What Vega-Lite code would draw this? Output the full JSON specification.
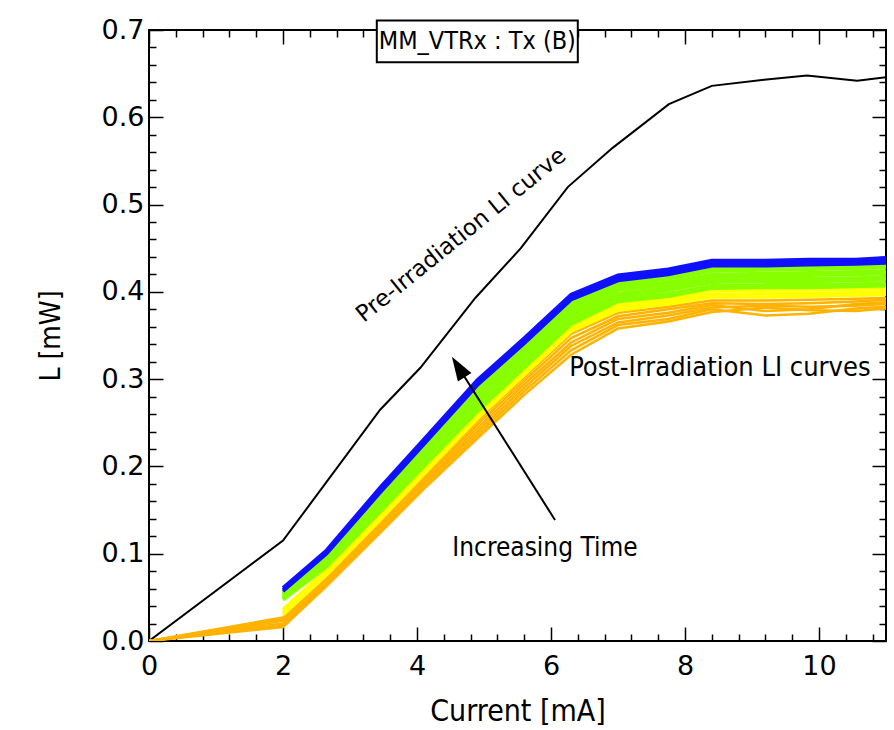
{
  "$schema": "https://vega.github.io/schema/vega-lite/v6.json",
  "width": 737,
  "height": 611,
  "autosize": "none",
  "padding": {"left": 149, "top": 30, "right": 8, "bottom": 89},
  "background": "white",
  "config": {
    "view": {"stroke": "black", "strokeWidth": 2},
    "axis": {"domain": false, "grid": false, "tickColor": "black", "tickWidth": 1.5, "labelColor": "black", "titleColor": "black", "titleFontWeight": "normal"}
  },
  "datasets": {
    "post": [
      {"g":"orange","k":"o1","x":0,"y":0},{"g":"orange","k":"o1","x":2,"y":0.016},{"g":"orange","k":"o1","x":2.65,"y":0.063},{"g":"orange","k":"o1","x":3.45,"y":0.124},{"g":"orange","k":"o1","x":4.1,"y":0.174},{"g":"orange","k":"o1","x":4.9,"y":0.232},{"g":"orange","k":"o1","x":5.6,"y":0.282},{"g":"orange","k":"o1","x":6.3,"y":0.328},{"g":"orange","k":"o1","x":7.0,"y":0.358},{"g":"orange","k":"o1","x":7.75,"y":0.366},{"g":"orange","k":"o1","x":8.4,"y":0.377},{"g":"orange","k":"o1","x":9.2,"y":0.382},{"g":"orange","k":"o1","x":9.85,"y":0.379},{"g":"orange","k":"o1","x":10.55,"y":0.378},{"g":"orange","k":"o1","x":11.0,"y":0.381},
      {"g":"orange","k":"o2","x":0,"y":0},{"g":"orange","k":"o2","x":2,"y":0.018},{"g":"orange","k":"o2","x":2.65,"y":0.065},{"g":"orange","k":"o2","x":3.45,"y":0.126},{"g":"orange","k":"o2","x":4.1,"y":0.177},{"g":"orange","k":"o2","x":4.9,"y":0.236},{"g":"orange","k":"o2","x":5.6,"y":0.286},{"g":"orange","k":"o2","x":6.3,"y":0.333},{"g":"orange","k":"o2","x":7.0,"y":0.362},{"g":"orange","k":"o2","x":7.75,"y":0.369},{"g":"orange","k":"o2","x":8.4,"y":0.380},{"g":"orange","k":"o2","x":9.2,"y":0.373},{"g":"orange","k":"o2","x":9.85,"y":0.375},{"g":"orange","k":"o2","x":10.55,"y":0.381},{"g":"orange","k":"o2","x":11.0,"y":0.383},
      {"g":"orange","k":"o3","x":0,"y":0},{"g":"orange","k":"o3","x":2,"y":0.020},{"g":"orange","k":"o3","x":2.65,"y":0.067},{"g":"orange","k":"o3","x":3.45,"y":0.129},{"g":"orange","k":"o3","x":4.1,"y":0.180},{"g":"orange","k":"o3","x":4.9,"y":0.240},{"g":"orange","k":"o3","x":5.6,"y":0.290},{"g":"orange","k":"o3","x":6.3,"y":0.338},{"g":"orange","k":"o3","x":7.0,"y":0.365},{"g":"orange","k":"o3","x":7.75,"y":0.373},{"g":"orange","k":"o3","x":8.4,"y":0.382},{"g":"orange","k":"o3","x":9.2,"y":0.384},{"g":"orange","k":"o3","x":9.85,"y":0.383},{"g":"orange","k":"o3","x":10.55,"y":0.384},{"g":"orange","k":"o3","x":11.0,"y":0.386},
      {"g":"orange","k":"o4","x":0,"y":0},{"g":"orange","k":"o4","x":2,"y":0.023},{"g":"orange","k":"o4","x":2.65,"y":0.069},{"g":"orange","k":"o4","x":3.45,"y":0.131},{"g":"orange","k":"o4","x":4.1,"y":0.182},{"g":"orange","k":"o4","x":4.9,"y":0.244},{"g":"orange","k":"o4","x":5.6,"y":0.294},{"g":"orange","k":"o4","x":6.3,"y":0.342},{"g":"orange","k":"o4","x":7.0,"y":0.369},{"g":"orange","k":"o4","x":7.75,"y":0.376},{"g":"orange","k":"o4","x":8.4,"y":0.385},{"g":"orange","k":"o4","x":9.2,"y":0.378},{"g":"orange","k":"o4","x":9.85,"y":0.380},{"g":"orange","k":"o4","x":10.55,"y":0.386},{"g":"orange","k":"o4","x":11.0,"y":0.388},
      {"g":"orange","k":"o5","x":0,"y":0},{"g":"orange","k":"o5","x":2,"y":0.025},{"g":"orange","k":"o5","x":2.65,"y":0.071},{"g":"orange","k":"o5","x":3.45,"y":0.134},{"g":"orange","k":"o5","x":4.1,"y":0.185},{"g":"orange","k":"o5","x":4.9,"y":0.248},{"g":"orange","k":"o5","x":5.6,"y":0.298},{"g":"orange","k":"o5","x":6.3,"y":0.347},{"g":"orange","k":"o5","x":7.0,"y":0.372},{"g":"orange","k":"o5","x":7.75,"y":0.380},{"g":"orange","k":"o5","x":8.4,"y":0.387},{"g":"orange","k":"o5","x":9.2,"y":0.386},{"g":"orange","k":"o5","x":9.85,"y":0.387},{"g":"orange","k":"o5","x":10.55,"y":0.389},{"g":"orange","k":"o5","x":11.0,"y":0.391},
      {"g":"orange","k":"o6","x":0,"y":0},{"g":"orange","k":"o6","x":2,"y":0.027},{"g":"orange","k":"o6","x":2.65,"y":0.073},{"g":"orange","k":"o6","x":3.45,"y":0.136},{"g":"orange","k":"o6","x":4.1,"y":0.188},{"g":"orange","k":"o6","x":4.9,"y":0.252},{"g":"orange","k":"o6","x":5.6,"y":0.302},{"g":"orange","k":"o6","x":6.3,"y":0.352},{"g":"orange","k":"o6","x":7.0,"y":0.376},{"g":"orange","k":"o6","x":7.75,"y":0.383},{"g":"orange","k":"o6","x":8.4,"y":0.390},{"g":"orange","k":"o6","x":9.2,"y":0.390},{"g":"orange","k":"o6","x":9.85,"y":0.391},{"g":"orange","k":"o6","x":10.55,"y":0.392},{"g":"orange","k":"o6","x":11.0,"y":0.393},
      {"g":"yellow","k":"y1","x":2,"y":0.030},{"g":"yellow","k":"y1","x":2.65,"y":0.076},{"g":"yellow","k":"y1","x":3.45,"y":0.139},{"g":"yellow","k":"y1","x":4.1,"y":0.191},{"g":"yellow","k":"y1","x":4.9,"y":0.255},{"g":"yellow","k":"y1","x":5.6,"y":0.305},{"g":"yellow","k":"y1","x":6.3,"y":0.355},{"g":"yellow","k":"y1","x":7.0,"y":0.379},{"g":"yellow","k":"y1","x":7.75,"y":0.386},{"g":"yellow","k":"y1","x":8.4,"y":0.394},{"g":"yellow","k":"y1","x":9.2,"y":0.394},{"g":"yellow","k":"y1","x":9.85,"y":0.395},{"g":"yellow","k":"y1","x":10.55,"y":0.396},{"g":"yellow","k":"y1","x":11.0,"y":0.397},
      {"g":"yellow","k":"y2","x":2,"y":0.033},{"g":"yellow","k":"y2","x":2.65,"y":0.079},{"g":"yellow","k":"y2","x":3.45,"y":0.142},{"g":"yellow","k":"y2","x":4.1,"y":0.194},{"g":"yellow","k":"y2","x":4.9,"y":0.257},{"g":"yellow","k":"y2","x":5.6,"y":0.307},{"g":"yellow","k":"y2","x":6.3,"y":0.357},{"g":"yellow","k":"y2","x":7.0,"y":0.383},{"g":"yellow","k":"y2","x":7.75,"y":0.389},{"g":"yellow","k":"y2","x":8.4,"y":0.397},{"g":"yellow","k":"y2","x":9.2,"y":0.398},{"g":"yellow","k":"y2","x":9.85,"y":0.398},{"g":"yellow","k":"y2","x":10.55,"y":0.399},{"g":"yellow","k":"y2","x":11.0,"y":0.400},
      {"g":"yellow","k":"y3","x":2,"y":0.036},{"g":"yellow","k":"y3","x":2.65,"y":0.082},{"g":"yellow","k":"y3","x":3.45,"y":0.145},{"g":"yellow","k":"y3","x":4.1,"y":0.197},{"g":"yellow","k":"y3","x":4.9,"y":0.260},{"g":"yellow","k":"y3","x":5.6,"y":0.310},{"g":"yellow","k":"y3","x":6.3,"y":0.360},{"g":"yellow","k":"y3","x":7.0,"y":0.386},{"g":"yellow","k":"y3","x":7.75,"y":0.392},{"g":"yellow","k":"y3","x":8.4,"y":0.401},{"g":"yellow","k":"y3","x":9.2,"y":0.402},{"g":"yellow","k":"y3","x":9.85,"y":0.402},{"g":"yellow","k":"y3","x":10.55,"y":0.403},{"g":"yellow","k":"y3","x":11.0,"y":0.404},
      {"g":"green","k":"g1","x":2,"y":0.047},{"g":"green","k":"g1","x":2.65,"y":0.085},{"g":"green","k":"g1","x":3.45,"y":0.148},{"g":"green","k":"g1","x":4.1,"y":0.200},{"g":"green","k":"g1","x":4.9,"y":0.263},{"g":"green","k":"g1","x":5.6,"y":0.313},{"g":"green","k":"g1","x":6.3,"y":0.363},{"g":"green","k":"g1","x":7.0,"y":0.389},{"g":"green","k":"g1","x":7.75,"y":0.395},{"g":"green","k":"g1","x":8.4,"y":0.404},{"g":"green","k":"g1","x":9.2,"y":0.405},{"g":"green","k":"g1","x":9.85,"y":0.405},{"g":"green","k":"g1","x":10.55,"y":0.406},{"g":"green","k":"g1","x":11.0,"y":0.407},
      {"g":"green","k":"g2","x":2,"y":0.048},{"g":"green","k":"g2","x":2.65,"y":0.087},{"g":"green","k":"g2","x":3.45,"y":0.151},{"g":"green","k":"g2","x":4.1,"y":0.203},{"g":"green","k":"g2","x":4.9,"y":0.267},{"g":"green","k":"g2","x":5.6,"y":0.317},{"g":"green","k":"g2","x":6.3,"y":0.367},{"g":"green","k":"g2","x":7.0,"y":0.392},{"g":"green","k":"g2","x":7.75,"y":0.398},{"g":"green","k":"g2","x":8.4,"y":0.407},{"g":"green","k":"g2","x":9.2,"y":0.408},{"g":"green","k":"g2","x":9.85,"y":0.408},{"g":"green","k":"g2","x":10.55,"y":0.409},{"g":"green","k":"g2","x":11.0,"y":0.410},
      {"g":"green","k":"g3","x":2,"y":0.049},{"g":"green","k":"g3","x":2.65,"y":0.088},{"g":"green","k":"g3","x":3.45,"y":0.153},{"g":"green","k":"g3","x":4.1,"y":0.206},{"g":"green","k":"g3","x":4.9,"y":0.271},{"g":"green","k":"g3","x":5.6,"y":0.320},{"g":"green","k":"g3","x":6.3,"y":0.370},{"g":"green","k":"g3","x":7.0,"y":0.395},{"g":"green","k":"g3","x":7.75,"y":0.402},{"g":"green","k":"g3","x":8.4,"y":0.411},{"g":"green","k":"g3","x":9.2,"y":0.412},{"g":"green","k":"g3","x":9.85,"y":0.412},{"g":"green","k":"g3","x":10.55,"y":0.413},{"g":"green","k":"g3","x":11.0,"y":0.414},
      {"g":"green","k":"g4","x":2,"y":0.050},{"g":"green","k":"g4","x":2.65,"y":0.090},{"g":"green","k":"g4","x":3.45,"y":0.156},{"g":"green","k":"g4","x":4.1,"y":0.209},{"g":"green","k":"g4","x":4.9,"y":0.275},{"g":"green","k":"g4","x":5.6,"y":0.324},{"g":"green","k":"g4","x":6.3,"y":0.374},{"g":"green","k":"g4","x":7.0,"y":0.398},{"g":"green","k":"g4","x":7.75,"y":0.405},{"g":"green","k":"g4","x":8.4,"y":0.414},{"g":"green","k":"g4","x":9.2,"y":0.415},{"g":"green","k":"g4","x":9.85,"y":0.415},{"g":"green","k":"g4","x":10.55,"y":0.416},{"g":"green","k":"g4","x":11.0,"y":0.417},
      {"g":"green","k":"g5","x":2,"y":0.052},{"g":"green","k":"g5","x":2.65,"y":0.092},{"g":"green","k":"g5","x":3.45,"y":0.159},{"g":"green","k":"g5","x":4.1,"y":0.212},{"g":"green","k":"g5","x":4.9,"y":0.279},{"g":"green","k":"g5","x":5.6,"y":0.327},{"g":"green","k":"g5","x":6.3,"y":0.377},{"g":"green","k":"g5","x":7.0,"y":0.402},{"g":"green","k":"g5","x":7.75,"y":0.408},{"g":"green","k":"g5","x":8.4,"y":0.417},{"g":"green","k":"g5","x":9.2,"y":0.418},{"g":"green","k":"g5","x":9.85,"y":0.419},{"g":"green","k":"g5","x":10.55,"y":0.420},{"g":"green","k":"g5","x":11.0,"y":0.421},
      {"g":"green","k":"g6","x":2,"y":0.053},{"g":"green","k":"g6","x":2.65,"y":0.094},{"g":"green","k":"g6","x":3.45,"y":0.162},{"g":"green","k":"g6","x":4.1,"y":0.215},{"g":"green","k":"g6","x":4.9,"y":0.283},{"g":"green","k":"g6","x":5.6,"y":0.331},{"g":"green","k":"g6","x":6.3,"y":0.381},{"g":"green","k":"g6","x":7.0,"y":0.405},{"g":"green","k":"g6","x":7.75,"y":0.411},{"g":"green","k":"g6","x":8.4,"y":0.420},{"g":"green","k":"g6","x":9.2,"y":0.421},{"g":"green","k":"g6","x":9.85,"y":0.422},{"g":"green","k":"g6","x":10.55,"y":0.423},{"g":"green","k":"g6","x":11.0,"y":0.424},
      {"g":"green","k":"g7","x":2,"y":0.054},{"g":"green","k":"g7","x":2.65,"y":0.095},{"g":"green","k":"g7","x":3.45,"y":0.164},{"g":"green","k":"g7","x":4.1,"y":0.218},{"g":"green","k":"g7","x":4.9,"y":0.287},{"g":"green","k":"g7","x":5.6,"y":0.334},{"g":"green","k":"g7","x":6.3,"y":0.384},{"g":"green","k":"g7","x":7.0,"y":0.408},{"g":"green","k":"g7","x":7.75,"y":0.415},{"g":"green","k":"g7","x":8.4,"y":0.424},{"g":"green","k":"g7","x":9.2,"y":0.425},{"g":"green","k":"g7","x":9.85,"y":0.426},{"g":"green","k":"g7","x":10.55,"y":0.427},{"g":"green","k":"g7","x":11.0,"y":0.428},
      {"g":"green","k":"g8","x":2,"y":0.055},{"g":"green","k":"g8","x":2.65,"y":0.097},{"g":"green","k":"g8","x":3.45,"y":0.167},{"g":"green","k":"g8","x":4.1,"y":0.221},{"g":"green","k":"g8","x":4.9,"y":0.291},{"g":"green","k":"g8","x":5.6,"y":0.338},{"g":"green","k":"g8","x":6.3,"y":0.388},{"g":"green","k":"g8","x":7.0,"y":0.411},{"g":"green","k":"g8","x":7.75,"y":0.418},{"g":"green","k":"g8","x":8.4,"y":0.427},{"g":"green","k":"g8","x":9.2,"y":0.428},{"g":"green","k":"g8","x":9.85,"y":0.429},{"g":"green","k":"g8","x":10.55,"y":0.430},{"g":"green","k":"g8","x":11.0,"y":0.431},
      {"g":"blue","k":"b1","x":2,"y":0.057},{"g":"blue","k":"b1","x":2.65,"y":0.100},{"g":"blue","k":"b1","x":3.45,"y":0.170},{"g":"blue","k":"b1","x":4.1,"y":0.225},{"g":"blue","k":"b1","x":4.9,"y":0.293},{"g":"blue","k":"b1","x":5.6,"y":0.341},{"g":"blue","k":"b1","x":6.3,"y":0.391},{"g":"blue","k":"b1","x":7.0,"y":0.413},{"g":"blue","k":"b1","x":7.75,"y":0.420},{"g":"blue","k":"b1","x":8.4,"y":0.430},{"g":"blue","k":"b1","x":9.2,"y":0.430},{"g":"blue","k":"b1","x":9.85,"y":0.431},{"g":"blue","k":"b1","x":10.55,"y":0.432},{"g":"blue","k":"b1","x":11.0,"y":0.433},
      {"g":"blue","k":"b2","x":2,"y":0.059},{"g":"blue","k":"b2","x":2.65,"y":0.102},{"g":"blue","k":"b2","x":3.45,"y":0.173},{"g":"blue","k":"b2","x":4.1,"y":0.228},{"g":"blue","k":"b2","x":4.9,"y":0.296},{"g":"blue","k":"b2","x":5.6,"y":0.344},{"g":"blue","k":"b2","x":6.3,"y":0.394},{"g":"blue","k":"b2","x":7.0,"y":0.416},{"g":"blue","k":"b2","x":7.75,"y":0.423},{"g":"blue","k":"b2","x":8.4,"y":0.433},{"g":"blue","k":"b2","x":9.2,"y":0.433},{"g":"blue","k":"b2","x":9.85,"y":0.434},{"g":"blue","k":"b2","x":10.55,"y":0.434},{"g":"blue","k":"b2","x":11.0,"y":0.436},
      {"g":"blue","k":"b3","x":2,"y":0.061},{"g":"blue","k":"b3","x":2.65,"y":0.104},{"g":"blue","k":"b3","x":3.45,"y":0.176},{"g":"blue","k":"b3","x":4.1,"y":0.231},{"g":"blue","k":"b3","x":4.9,"y":0.299},{"g":"blue","k":"b3","x":5.6,"y":0.347},{"g":"blue","k":"b3","x":6.3,"y":0.397},{"g":"blue","k":"b3","x":7.0,"y":0.419},{"g":"blue","k":"b3","x":7.75,"y":0.426},{"g":"blue","k":"b3","x":8.4,"y":0.436},{"g":"blue","k":"b3","x":9.2,"y":0.436},{"g":"blue","k":"b3","x":9.85,"y":0.437},{"g":"blue","k":"b3","x":10.55,"y":0.437},{"g":"blue","k":"b3","x":11.0,"y":0.439}
    ],
    "pre": [
      {"x":0,"y":0},{"x":2,"y":0.115},{"x":3.45,"y":0.265},{"x":4.05,"y":0.313},{"x":4.87,"y":0.393},{"x":5.55,"y":0.450},{"x":6.25,"y":0.520},{"x":6.92,"y":0.565},{"x":7.76,"y":0.615},{"x":8.4,"y":0.636},{"x":9.18,"y":0.643},{"x":9.82,"y":0.648},{"x":10.57,"y":0.642},{"x":11.0,"y":0.646}
    ]
  },
  "resolve": {"axis": {"x": "independent", "y": "independent"}},
  "layer": [
    {
      "data": {"name": "pre"},
      "mark": {"type": "line", "color": "black", "strokeWidth": 2, "clip": true},
      "encoding": {
        "x": {"field": "x", "type": "quantitative",
          "scale": {"domain": [0, 11], "nice": false, "zero": false},
          "axis": {"orient": "bottom",
            "values": [0,0.4,0.8,1.2,1.6,2,2.4,2.8,3.2,3.6,4,4.4,4.8,5.2,5.6,6,6.4,6.8,7.2,7.6,8,8.4,8.8,9.2,9.6,10,10.4,10.8],
            "tickSize": {"condition": {"test": "abs(datum.value - round(datum.value/2)*2) < 0.01", "value": -14}, "value": -7},
            "labelExpr": "abs(datum.value - round(datum.value/2)*2) < 0.01 ? format(datum.value, 'd') : ''",
            "labelFont": "DejaVu Sans, sans-serif", "labelFontSize": 27,
            "labelPadding": 26, "labelFlush": false, "labelOverlap": false,
            "title": "Current [mA]", "titleFont": "DejaVu Sans Condensed, sans-serif", "titleFontSize": 30, "titlePadding": 10}},
        "y": {"field": "y", "type": "quantitative",
          "scale": {"domain": [0, 0.7], "nice": false},
          "axis": {"orient": "left",
            "values": [0,0.02,0.04,0.06,0.08,0.1,0.12,0.14,0.16,0.18,0.2,0.22,0.24,0.26,0.28,0.3,0.32,0.34,0.36,0.38,0.4,0.42,0.44,0.46,0.48,0.5,0.52,0.54,0.56,0.58,0.6,0.62,0.64,0.66,0.68,0.7],
            "tickSize": {"condition": {"test": "abs(datum.value*10 - round(datum.value*10)) < 0.01", "value": -14}, "value": -7},
            "labelExpr": "abs(datum.value*10 - round(datum.value*10)) < 0.01 ? format(datum.value, '.1f') : ''",
            "labelFont": "DejaVu Sans, sans-serif", "labelFontSize": 27,
            "labelPadding": 19, "labelFlush": false, "labelOverlap": false,
            "title": "L [mW]", "titleFont": "DejaVu Sans Condensed, sans-serif", "titleFontSize": 28, "titlePadding": 36}}
      }
    },
    {
      "data": {"name": "post"},
      "transform": [{"filter": "datum.g === 'orange'"}],
      "mark": {"type": "line", "strokeWidth": 2.5, "color": "#ffb300", "clip": true},
      "encoding": {
        "x": {"field": "x", "type": "quantitative",
          "axis": {"orient": "top",
            "values": [0,0.4,0.8,1.2,1.6,2,2.4,2.8,3.2,3.6,4,4.4,4.8,5.2,5.6,6,6.4,6.8,7.2,7.6,8,8.4,8.8,9.2,9.6,10,10.4,10.8],
            "tickSize": {"condition": {"test": "abs(datum.value - round(datum.value/2)*2) < 0.01", "value": -14}, "value": -7},
            "labels": false, "title": null}},
        "y": {"field": "y", "type": "quantitative",
          "axis": {"orient": "right",
            "values": [0,0.02,0.04,0.06,0.08,0.1,0.12,0.14,0.16,0.18,0.2,0.22,0.24,0.26,0.28,0.3,0.32,0.34,0.36,0.38,0.4,0.42,0.44,0.46,0.48,0.5,0.52,0.54,0.56,0.58,0.6,0.62,0.64,0.66,0.68,0.7],
            "tickSize": {"condition": {"test": "abs(datum.value*10 - round(datum.value*10)) < 0.01", "value": -14}, "value": -7},
            "labels": false, "title": null}},
        "detail": {"field": "k", "type": "nominal"}
      }
    },
    {
      "data": {"name": "post"},
      "transform": [{"filter": "datum.g === 'yellow'"}],
      "mark": {"type": "line", "strokeWidth": 3.5, "color": "#ffff00", "clip": true},
      "encoding": {
        "x": {"field": "x", "type": "quantitative", "axis": null},
        "y": {"field": "y", "type": "quantitative", "axis": null},
        "detail": {"field": "k", "type": "nominal"}
      }
    },
    {
      "data": {"name": "post"},
      "transform": [{"filter": "datum.g === 'green'"}],
      "mark": {"type": "line", "strokeWidth": 3.5, "color": "#88ff00", "clip": true},
      "encoding": {
        "x": {"field": "x", "type": "quantitative", "axis": null},
        "y": {"field": "y", "type": "quantitative", "axis": null},
        "detail": {"field": "k", "type": "nominal"}
      }
    },
    {
      "data": {"name": "post"},
      "transform": [{"filter": "datum.g === 'blue'"}],
      "mark": {"type": "line", "strokeWidth": 3.5, "color": "#1010ff", "clip": true},
      "encoding": {
        "x": {"field": "x", "type": "quantitative", "axis": null},
        "y": {"field": "y", "type": "quantitative", "axis": null},
        "detail": {"field": "k", "type": "nominal"}
      }
    },
    {
      "data": {"values": [{"x": 3.4, "x2": 6.4, "y": 0.663, "y2": 0.711}]},
      "mark": {"type": "rect", "fill": "white", "stroke": "black", "strokeWidth": 2, "clip": false},
      "encoding": {
        "x": {"field": "x", "type": "quantitative", "axis": null},
        "x2": {"field": "x2"},
        "y": {"field": "y", "type": "quantitative", "axis": null},
        "y2": {"field": "y2"}
      }
    },
    {
      "data": {"values": [{"x": 4.9, "y": 0.687, "t": "MM_VTRx : Tx (B)"}]},
      "mark": {"type": "text", "font": "DejaVu Sans Condensed, sans-serif", "fontSize": 25, "align": "center", "baseline": "middle", "color": "black", "clip": false},
      "encoding": {
        "x": {"field": "x", "type": "quantitative", "axis": null},
        "y": {"field": "y", "type": "quantitative", "axis": null},
        "text": {"field": "t"}
      }
    },
    {
      "data": {"values": [{"x": 4.66, "y": 0.465, "t": "Pre-Irradiation LI curve"}]},
      "mark": {"type": "text", "font": "DejaVu Sans, sans-serif", "fontSize": 23, "angle": -39, "align": "center", "baseline": "middle", "color": "black"},
      "encoding": {
        "x": {"field": "x", "type": "quantitative", "axis": null},
        "y": {"field": "y", "type": "quantitative", "axis": null},
        "text": {"field": "t"}
      }
    },
    {
      "data": {"values": [{"x": 8.52, "y": 0.313, "t": "Post-Irradiation LI curves"}]},
      "mark": {"type": "text", "font": "DejaVu Sans Condensed, sans-serif", "fontSize": 27, "align": "center", "baseline": "middle", "color": "black"},
      "encoding": {
        "x": {"field": "x", "type": "quantitative", "axis": null},
        "y": {"field": "y", "type": "quantitative", "axis": null},
        "text": {"field": "t"}
      }
    },
    {
      "data": {"values": [{"x": 5.91, "y": 0.1065, "t": "Increasing Time"}]},
      "mark": {"type": "text", "font": "DejaVu Sans Condensed, sans-serif", "fontSize": 26, "align": "center", "baseline": "middle", "color": "black"},
      "encoding": {
        "x": {"field": "x", "type": "quantitative", "axis": null},
        "y": {"field": "y", "type": "quantitative", "axis": null},
        "text": {"field": "t"}
      }
    },
    {
      "data": {"values": [{"x": 6.06, "y": 0.1386, "x2": 4.64, "y2": 0.311}]},
      "mark": {"type": "rule", "color": "black", "strokeWidth": 2},
      "encoding": {
        "x": {"field": "x", "type": "quantitative", "axis": null},
        "y": {"field": "y", "type": "quantitative", "axis": null},
        "x2": {"field": "x2"},
        "y2": {"field": "y2"}
      }
    },
    {
      "data": {"values": [{"x": 4.64, "y": 0.311}]},
      "mark": {"type": "point", "shape": "M0,-1.5L0.8,0.9L-0.8,0.9Z", "filled": true, "color": "black", "opacity": 1, "size": 400, "angle": -32},
      "encoding": {
        "x": {"field": "x", "type": "quantitative", "axis": null},
        "y": {"field": "y", "type": "quantitative", "axis": null}
      }
    }
  ]
}
